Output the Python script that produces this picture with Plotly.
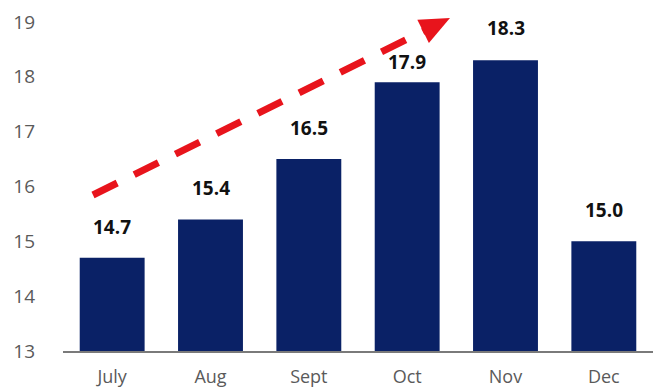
import plotly.graph_objects as go

# Monthly values shown in the bar chart
months = ["July", "Aug", "Sept", "Oct", "Nov", "Dec"]
values = [14.7, 15.4, 16.5, 17.9, 18.3, 15.0]
y_ticks = [13, 14, 15, 16, 17, 18, 19]

# Vertical offset (px) of each value label above its bar
label_shift = [27, 27, 27, 16, 28, 27]

W, H = 653, 392
M_L, M_R, M_T, M_B = 63, 0, 0, 41
PLOT_W = W - M_L - M_R
PLOT_H = H - M_T - M_B

NAVY = "#0a2166"
RED = "#e8141c"
GREY = "#5a5a5a"


def paper(px, py):
    """Convert page pixels to paper coordinates of the plot area."""
    return (px - M_L) / PLOT_W, (M_T + PLOT_H - py) / PLOT_H


fig = go.Figure()
fig.add_trace(go.Bar(
    x=months, y=values, marker=dict(color=NAVY, line=dict(width=0)),
    hoverinfo="skip", showlegend=False,
))

for m, v, s in zip(months, values, label_shift):
    fig.add_annotation(
        x=m, y=v, text=f"<b>{v:.1f}</b>", showarrow=False,
        yanchor="bottom", yshift=s - 11,
        font=dict(family="Open Sans", size=19, color="#111111"),
    )

# Red dashed trend arrow
tip = (450, 18)
start = (93, 195)
dx, dy = tip[0] - start[0], tip[1] - start[1]
ln = (dx * dx + dy * dy) ** 0.5
ux, uy = dx / ln, dy / ln
nx, ny = -uy, ux
head_len, head_half = 30, 13
base = (tip[0] - head_len * ux, tip[1] - head_len * uy)
line_end = (base[0] + 4 * ux, base[1] + 4 * uy)

x0, y0 = paper(*start)
x1, y1 = paper(*line_end)
fig.add_shape(type="line", xref="paper", yref="paper", x0=x0, y0=y0, x1=x1, y1=y1,
              line=dict(color=RED, width=7, dash="27px,19px"))

c1 = paper(base[0] + head_half * nx, base[1] + head_half * ny)
c2 = paper(base[0] - head_half * nx, base[1] - head_half * ny)
tp = paper(*tip)
fig.add_shape(type="path", xref="paper", yref="paper",
              path=f"M {c1[0]} {c1[1]} L {tp[0]} {tp[1]} L {c2[0]} {c2[1]} Z",
              fillcolor=RED, line=dict(width=0))

fig.update_layout(
    width=W, height=H,
    margin=dict(l=M_L, r=M_R, t=M_T, b=M_B, autoexpand=False),
    paper_bgcolor="white", plot_bgcolor="white",
    bargap=0.34,
    font=dict(family="Open Sans", color=GREY),
    xaxis=dict(
        showline=True, linecolor="#7a7a7a", linewidth=2,
        showgrid=False, ticks="", ticklabelstandoff=8, automargin=False,
        tickfont=dict(size=18, color=GREY),
        range=[-0.5, 5.5], fixedrange=True,
    ),
    yaxis=dict(
        range=[13, 19.4], tickvals=y_ticks, showgrid=False, zeroline=False,
        showline=False, ticks="", ticklabelstandoff=27, automargin=False,
        tickfont=dict(size=19, color=GREY), fixedrange=True,
    ),
)

fig.write_html("out.html")
